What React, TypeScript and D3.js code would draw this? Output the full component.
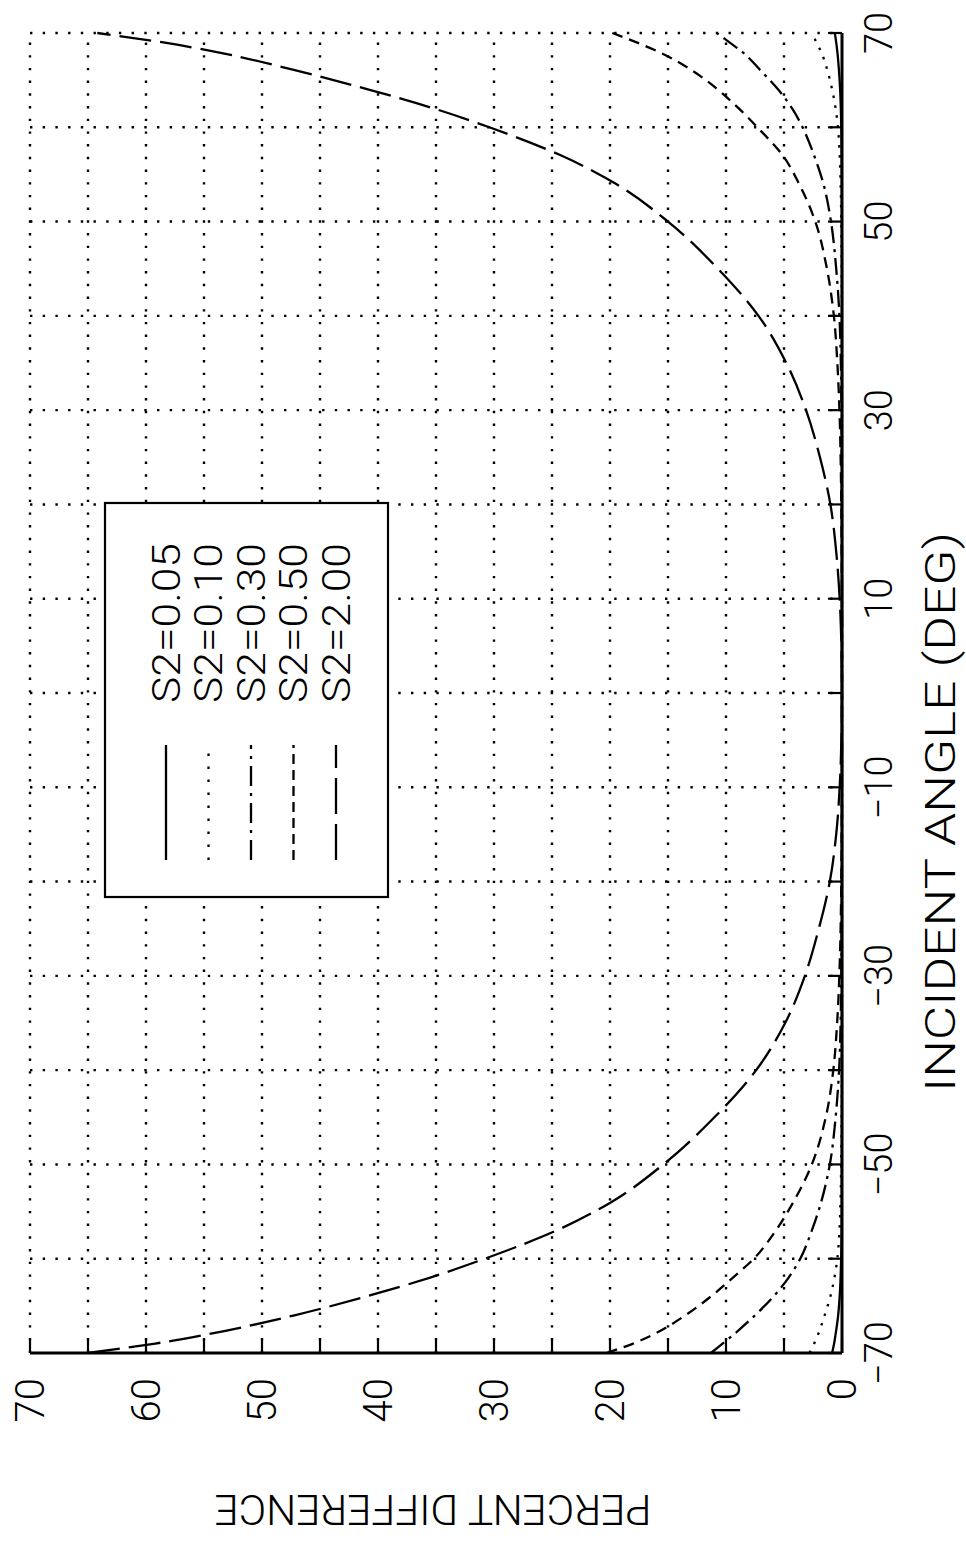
import React from 'react';
import * as d3 from 'd3';

// Incident angle samples (deg)
const ANGLES = [
  -70, -69, -68, -66, -64, -62, -60, -57, -54, -50, -45, -40, -35, -30, -25, -20, -15, -10, -5,
  0,
  5, 10, 15, 20, 25, 30, 35, 40, 45, 50, 54, 57, 60, 62, 64, 66, 68, 69, 70,
];

// Percent difference for each S2 value
const S2_005 = [
  0.85, 0.68, 0.55, 0.33, 0.2, 0.12, 0.07, 0.03, 0.015, 0.01, 0, 0, 0, 0, 0, 0, 0, 0, 0,
  0,
  0, 0, 0, 0, 0, 0, 0, 0, 0, 0.01, 0.015, 0.03, 0.06, 0.1, 0.16, 0.26, 0.4, 0.5, 0.62,
];
const S2_010 = [
  2.8, 2.4, 2.05, 1.5, 1.0, 0.65, 0.4, 0.22, 0.13, 0.07, 0.03, 0.01, 0, 0, 0, 0, 0, 0, 0,
  0,
  0, 0, 0, 0, 0, 0, 0, 0.01, 0.03, 0.06, 0.12, 0.2, 0.35, 0.55, 0.85, 1.25, 1.8, 2.2, 2.6,
];
const S2_030 = [
  11.3, 10.3, 9.3, 7.5, 5.9, 4.6, 3.6, 2.6, 1.8, 1.05, 0.55, 0.25, 0.12, 0.06, 0.03, 0.01, 0, 0, 0,
  0,
  0, 0, 0, 0.01, 0.03, 0.05, 0.1, 0.22, 0.5, 0.95, 1.6, 2.4, 3.4, 4.3, 5.5, 7.0, 8.6, 9.7, 10.8,
];
const S2_050 = [
  20.3, 18.0, 16.2, 13.5, 11.3, 9.4, 7.6, 5.7, 4.2, 2.6, 1.4, 0.75, 0.42, 0.23, 0.12, 0.06, 0.03, 0.01, 0,
  0,
  0, 0.01, 0.03, 0.06, 0.12, 0.22, 0.4, 0.7, 1.3, 2.3, 3.7, 5.1, 7.3, 8.9, 10.7, 12.9, 15.8, 17.7, 19.8,
];
const S2_200 = [
  65.0, 59.2, 54.6, 47.2, 41.0, 35.5, 30.8, 24.6, 19.9, 15.4, 11.0, 7.4, 4.9, 3.2, 2.0, 1.05, 0.5, 0.2, 0.05,
  0,
  0.05, 0.2, 0.5, 1.0, 1.9, 3.1, 4.8, 7.2, 10.7, 15.0, 19.5, 24.2, 30.4, 35.2, 40.8, 47.0, 54.0, 58.5, 64.2,
];

const SERIES_LABELS = ['S2=0.05', 'S2=0.10', 'S2=0.30', 'S2=0.50', 'S2=2.00'];
const SERIES_VALUES = [S2_005, S2_010, S2_030, S2_050, S2_200];
const SERIES_DASH: (string | undefined)[] = [undefined, '2.5,7.5', '17,6,3,6', '11,7', '32,9'];
const LEGEND_DASH: (string | undefined)[] = [undefined, '2.5,10.5', '20,7,3,7', '10,6', '36,10'];

const ANGLE_GRID = d3.range(-70, 71, 10);
const ANGLE_LABELS = [-70, -50, -30, -10, 10, 30, 50, 70];
const PCT_TICKS = d3.range(0, 71, 5);
const PCT_LABELS = [0, 10, 20, 30, 40, 50, 60, 70];

const W = 966;
const H = 1543;
// The plot is laid out in its own frame and turned a quarter turn counter-clockwise.
const OX = 30;
const OY = 1353;
const PW = 1320; // angle extent
const PH = 812; // percent extent

const fmt = (v: number) => (v < 0 ? `\u2212${Math.abs(v)}` : `${v}`);

const FONT = "Roboto, 'Liberation Sans', Arial, sans-serif";
const WEIGHT = 300;

export default function App() {
  const x = d3.scaleLinear().domain([-70, 70]).range([0, PW]);
  const y = d3.scaleLinear().domain([0, 70]).range([PH, 0]);
  const line = d3
    .line<number>()
    .x((_, i) => x(ANGLES[i]))
    .y((d) => y(d))
    .curve(d3.curveMonotoneX);

  const legendV0 = 136;
  const legendStep = 42.5;

  return (
    <svg
      width={W}
      height={H}
      style={{ position: 'absolute', left: 0, top: 0 }}
      fontFamily={FONT}
      fontWeight={WEIGHT}
    >
      <rect width={W} height={H} fill="#fff" />
      <g transform={`translate(${OX},${OY}) rotate(-90)`}>
        {/* dotted grid */}
        {ANGLE_GRID.filter((a) => a !== -70).map((a) => (
          <line
            key={`ga${a}`}
            x1={x(a)}
            x2={x(a)}
            y1={0}
            y2={PH}
            stroke="#000"
            strokeWidth={2.4}
            strokeDasharray="2.4,10.3"
          />
        ))}
        {PCT_TICKS.filter((p) => p !== 0).map((p) => (
          <line
            key={`gp${p}`}
            x1={0}
            x2={PW}
            y1={y(p)}
            y2={y(p)}
            stroke="#000"
            strokeWidth={2.4}
            strokeDasharray="2.4,10.3"
          />
        ))}

        {/* curves */}
        {SERIES_VALUES.map((vals, i) => (
          <path
            key={`s${i}`}
            d={line(vals) || ''}
            fill="none"
            stroke="#000"
            strokeWidth={2.3}
            strokeDasharray={SERIES_DASH[i]}
          />
        ))}

        {/* axes */}
        <line x1={0} x2={PW} y1={PH} y2={PH} stroke="#000" strokeWidth={3} />
        <line x1={0} x2={0} y1={0} y2={PH} stroke="#000" strokeWidth={3} />
        {ANGLE_GRID.map((a) => (
          <line key={`ta${a}`} x1={x(a)} x2={x(a)} y1={PH} y2={PH - 14} stroke="#000" strokeWidth={2.2} />
        ))}
        {PCT_TICKS.map((p) => (
          <line key={`tp${p}`} x1={0} x2={14} y1={y(p)} y2={y(p)} stroke="#000" strokeWidth={2.2} />
        ))}

        {/* tick labels */}
        {ANGLE_LABELS.map((a) => (
          <text key={`la${a}`} x={x(a)} y={PH + 50} fontSize={38} textAnchor="middle" fill="#000">
            {fmt(a)}
          </text>
        ))}
        {PCT_LABELS.map((p) => (
          <text key={`lp${p}`} x={-25} y={y(p) + 14} fontSize={40} textAnchor="end" fill="#000">
            {p}
          </text>
        ))}

        {/* angle axis title */}
        <text
          x={541}
          y={925}
          fontSize={42}
          textAnchor="middle"
          textLength={560}
          lengthAdjust="spacingAndGlyphs"
          fill="#000"
        >
          INCIDENT ANGLE (DEG)
        </text>

        {/* legend */}
        <rect x={456} y={75} width={394} height={283} fill="#fff" stroke="#000" strokeWidth={2.2} />
        {SERIES_LABELS.map((lab, i) => {
          const v = legendV0 + i * legendStep;
          return (
            <g key={`lg${i}`}>
              <line
                x1={493}
                x2={608}
                y1={v}
                y2={v}
                stroke="#000"
                strokeWidth={2.3}
                strokeDasharray={LEGEND_DASH[i]}
              />
              <text
                x={650}
                y={v + 13.5}
                fontSize={38}
                textLength={160}
                lengthAdjust="spacingAndGlyphs"
                fill="#000"
              >
                {lab}
              </text>
            </g>
          );
        })}
      </g>

      {/* percent axis title */}
      <text
        transform="translate(433,1495) rotate(180)"
        fontSize={43}
        textAnchor="middle"
        textLength={437}
        lengthAdjust="spacingAndGlyphs"
        fill="#000"
      >
        PERCENT DIFFERENCE
      </text>
    </svg>
  );
}
